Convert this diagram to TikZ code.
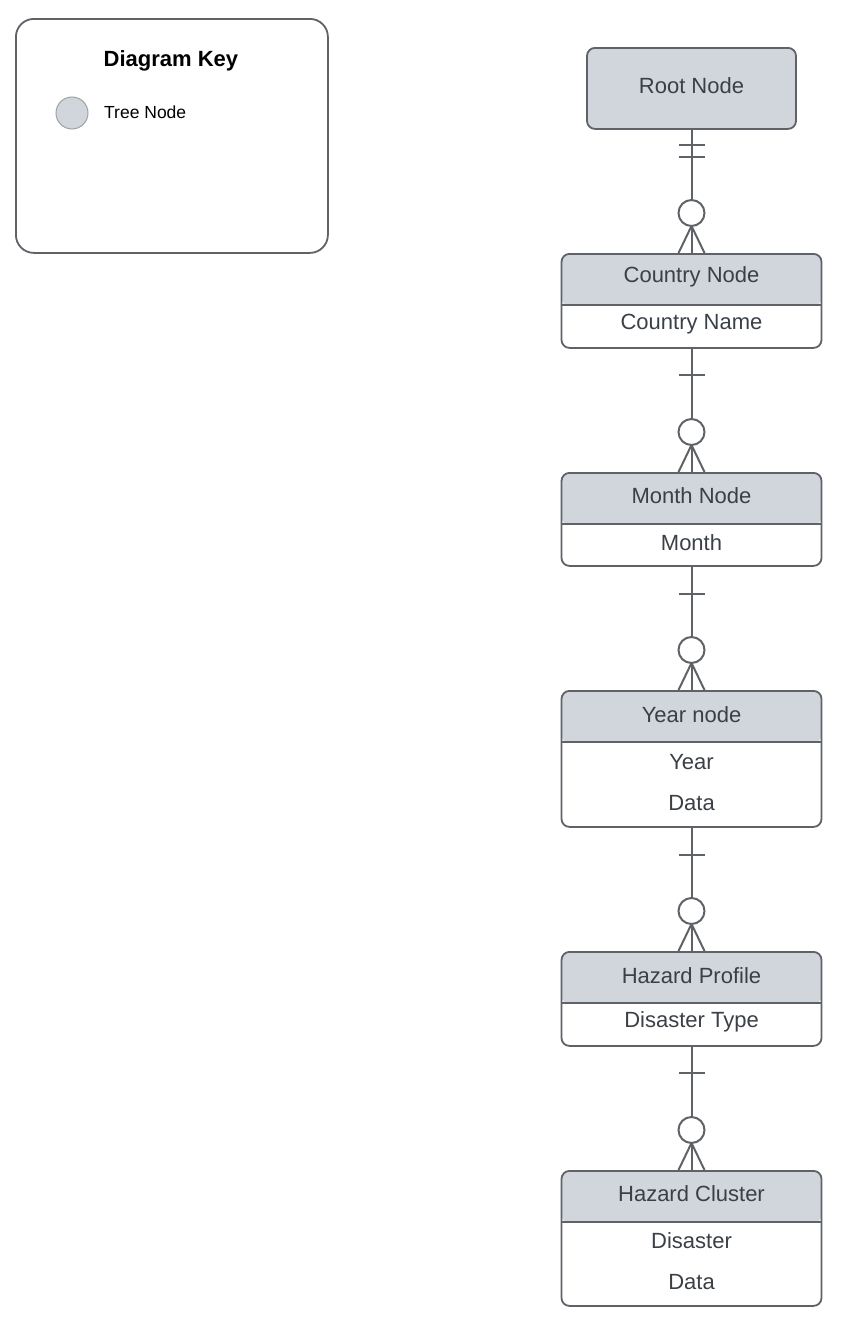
\documentclass[tikz,border=0pt]{standalone}
\usepackage{fontspec}
\setmainfont{Liberation Sans}
\definecolor{edge}{HTML}{5F6368}
\definecolor{hdr}{HTML}{D1D5DC}
\definecolor{txt}{HTML}{3B4047}
\newcommand\erlink[3]{%
  \draw[conn] (#1.south) -- (#2.north);
  \draw[conn] ([xshift=-13pt,yshift=-#3pt]#1.south) -- ++(26pt,0);
  \draw[conn] ([xshift=-13pt]#2.north) -- ([yshift=27pt]#2.north) -- ([xshift=13pt]#2.north);
  \draw[conn, fill=white] ([yshift=40pt]#2.north) circle (13pt);
}
\begin{document}
\begin{tikzpicture}[x=1pt,y=-1pt,
  conn/.style={draw=edge, line width=2pt},
  ent/.style={draw=edge, line width=1.8pt, rounded corners=8pt, minimum width=260pt,
     anchor=north, inner sep=0pt, fill=white,
     path picture={\fill[hdr] (path picture bounding box.north west) rectangle ([yshift=-52pt]path picture bounding box.north east);}},
  lbl/.style={text=txt, font=\fontsize{22}{26}\selectfont, inner sep=0pt}
]
\useasboundingbox (0,0) rectangle (864,1336);
% key
\node[draw=edge, line width=1.8pt, rounded corners=18pt, minimum width=312pt, minimum height=234pt, anchor=north west, inner sep=0pt] (key) at (15,18) {};
\node[font=\bfseries\fontsize{22}{26}\selectfont, inner sep=0pt] (keytitle) at (171,61) {Diagram Key};
\node[circle, draw=edge!60, fill=hdr, line width=1pt, minimum size=32pt, inner sep=0pt] (keydot) at (72,113) {};
\node[anchor=west, font=\fontsize{17.5}{21}\selectfont, inner sep=0pt] (keytext) at (104,112) {Tree Node};
% root
\node[draw=edge, line width=1.8pt, rounded corners=8pt, fill=hdr, minimum width=209pt, minimum height=81pt, anchor=north, inner sep=0pt] (root) at (691.5,47) {};
\node[lbl] (roott) at (691.5,86) {Root Node};
% entities
\node[ent, minimum height=94pt] (country) at (691.5,253) {};
\node[ent, minimum height=93pt] (month) at (691.5,472) {};
\node[ent, minimum height=136pt] (year) at (691.5,690) {};
\node[ent, minimum height=94pt] (hazp) at (691.5,951) {};
\node[ent, minimum height=135pt] (hazc) at (691.5,1170) {};
\foreach \n in {country,month,year,hazp,hazc}{
  \draw[draw=edge, line width=1.8pt] ([yshift=-52pt]\n.north west) -- ([yshift=-52pt]\n.north east);
}
\node[lbl] (countryh) at (691.5,277) {Country Node};
\node[lbl] (countryf) at (691.5,324) {Country Name};
\node[lbl] (monthh) at (691.5,496) {Month Node};
\node[lbl] (monthf) at (691.5,543) {Month};
\node[lbl] (yearh) at (691.5,715) {Year node};
\node[lbl] (yearf1) at (691.5,762) {Year};
\node[lbl] (yearf2) at (691.5,803) {Data};
\node[lbl] (hazph) at (691.5,976) {Hazard Profile};
\node[lbl] (hazpf) at (691.5,1022) {Disaster Type};
\node[lbl] (hazch) at (691.5,1194) {Hazard Cluster};
\node[lbl] (hazcf1) at (691.5,1241) {Disaster};
\node[lbl] (hazcf2) at (691.5,1282) {Data};
% links
\erlink{root}{country}{27}
\draw[conn] ([xshift=-13pt,yshift=-15pt]root.south) -- ++(26pt,0);
\erlink{country}{month}{26}
\erlink{month}{year}{27}
\erlink{year}{hazp}{27}
\erlink{hazp}{hazc}{26}
\end{tikzpicture}
\end{document}
